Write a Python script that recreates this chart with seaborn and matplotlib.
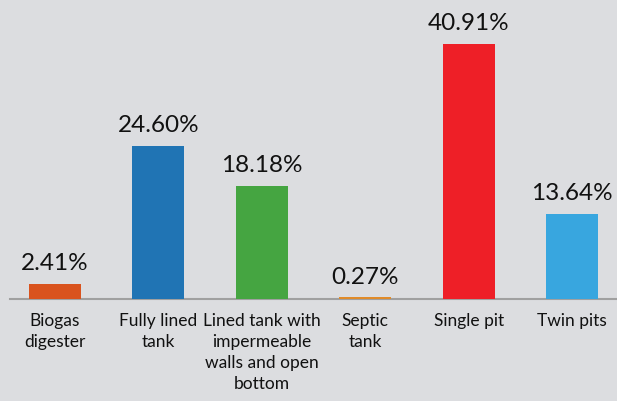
import matplotlib
matplotlib.use("Agg")
import matplotlib.pyplot as plt
import seaborn as sns
import pandas as pd

# data
categories = ["Biogas\ndigester", "Fully lined\ntank", "Lined tank with\nimpermeable\nwalls and open\nbottom",
              "Septic\ntank", "Single pit", "Twin pits"]
shares = [2.41, 24.60, 18.18, 0.27, 40.91, 13.64]
colors = ["#d9531e", "#2074b4", "#45a541", "#e08b2a", "#ee1f27", "#38a6df"]

df = pd.DataFrame({"cat": categories, "share": shares})

sns.set_style("white")
plt.rcParams["font.family"] = ["Lato", "DejaVu Sans"]

bg = "#dcdde0"
fig = plt.figure(figsize=(6.17, 4.01), dpi=100, facecolor=bg)
ax = fig.add_axes([10 / 617, 102 / 401, 607 / 617, 299 / 401])
ax.set_facecolor(bg)

sns.barplot(data=df, x="cat", y="share", hue="cat", palette=colors,
            legend=False, width=0.503, saturation=1, linewidth=0, ax=ax,
            zorder=3)

ax.set_xlim(-0.435, 5.435)
ax.set_ylim(0, 47.97)

for i, v in enumerate(shares):
    ax.annotate(f"{v:.2f}%", (i, v), xytext=(0, 7), textcoords="offset points",
                ha="center", va="bottom", fontsize=17.5, color="#111111")

for s in ["top", "right", "left"]:
    ax.spines[s].set_visible(False)
ax.spines["bottom"].set_color("#a0a0a0")
ax.spines["bottom"].set_linewidth(1.5)
ax.spines["bottom"].set_zorder(1)

ax.set_yticks([])
ax.set_xlabel("")
ax.set_ylabel("")
ax.tick_params(axis="x", length=0, pad=10)
for lab in ax.get_xticklabels():
    lab.set_fontsize(12.5)
    lab.set_color("#111111")
    lab.set_linespacing(1.4)
    lab.set_verticalalignment("top")

fig.savefig("out.png", dpi=100, facecolor=bg)
